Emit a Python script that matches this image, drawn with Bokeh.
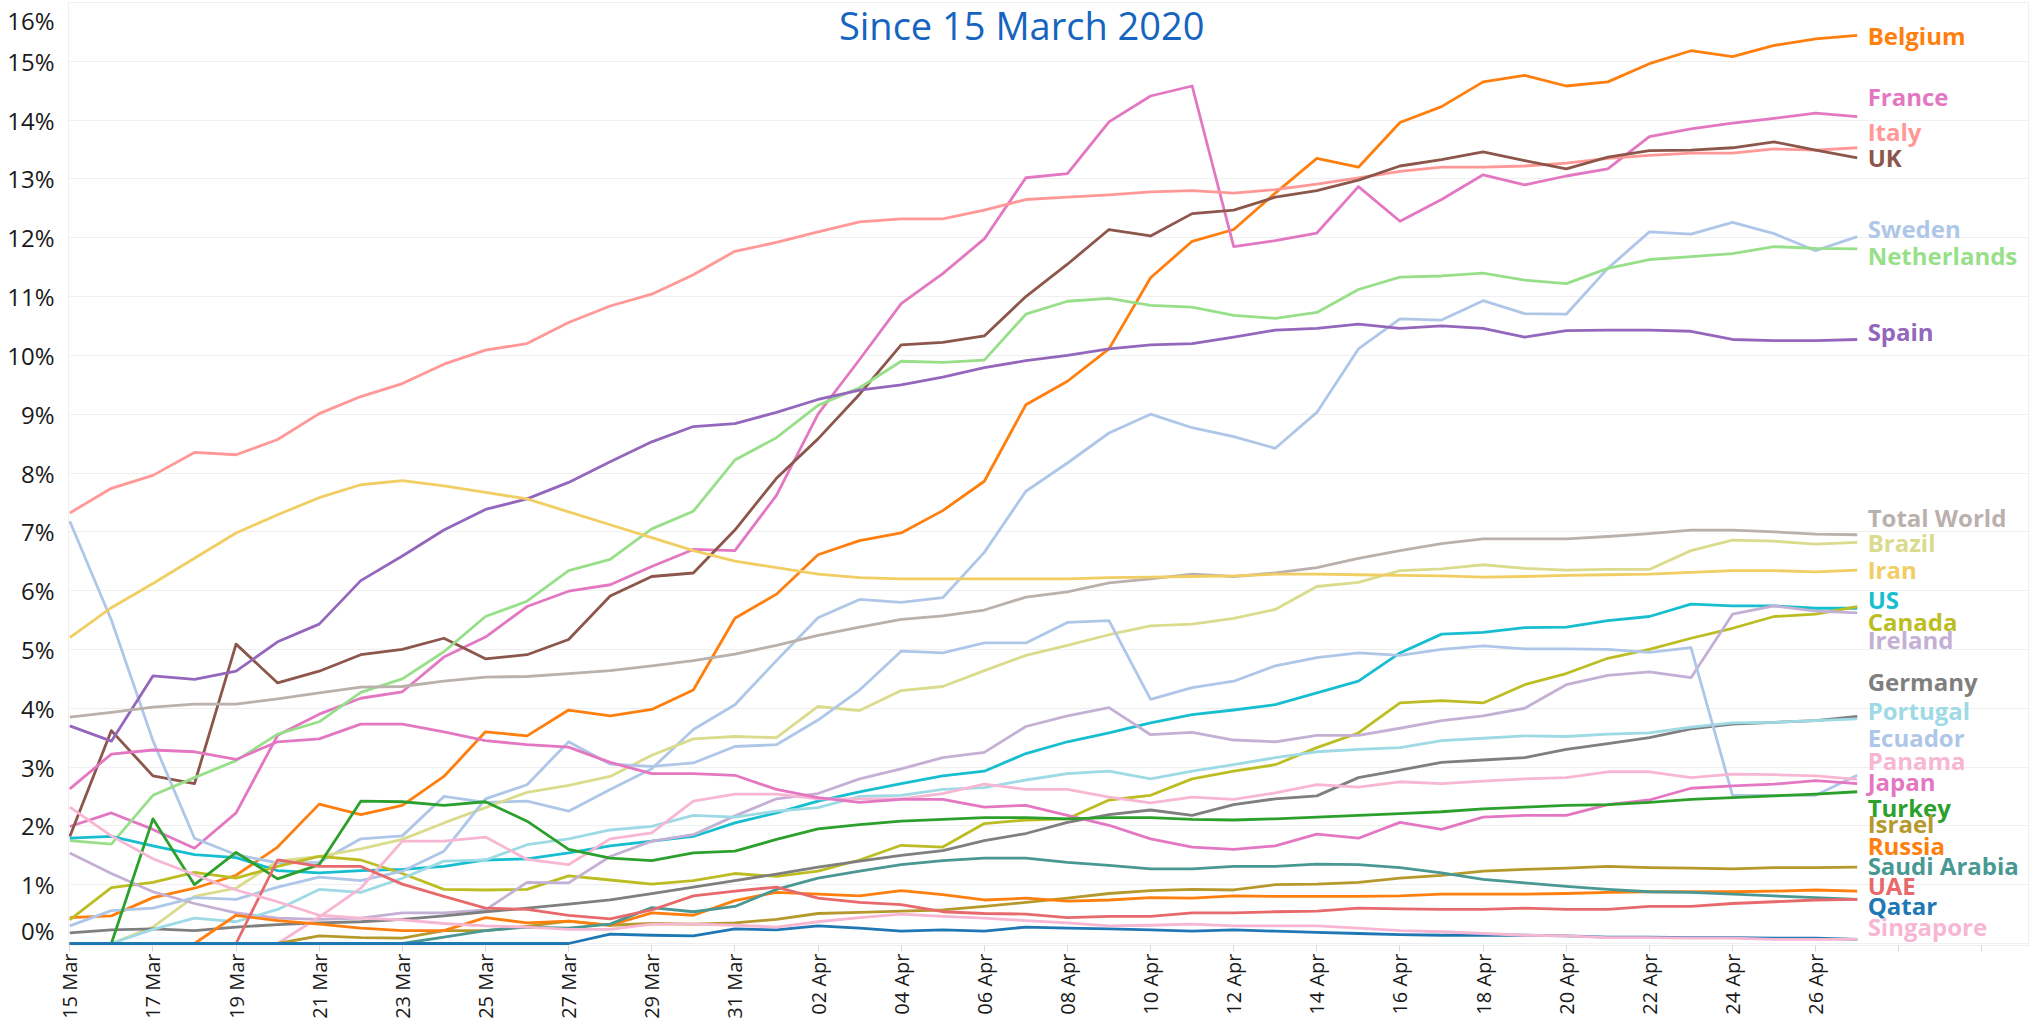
import pandas as pd
from bokeh.plotting import figure
from bokeh.models import Range1d, FixedTicker, Label, ColumnDataSource
from bokeh.core.properties import value
from bokeh.embed import file_html
from bokeh.resources import INLINE

# ---- data (share in %, daily, 15 Mar .. 27 Apr 2020) ----
dates = [d.strftime("%d %b") for d in pd.date_range("2020-03-15", "2020-04-27")]

belgium = [0.44,0.47,0.78,0.94,1.16,1.64,2.37,2.19,2.35,2.84, 3.60,3.53,3.97,3.87,3.98,4.31,5.53,5.94,6.61,6.85,
           6.98,7.36,7.86,9.16,9.56,10.11,11.32,11.94,12.14,12.76, 13.35,13.20,13.96,14.23,14.65,14.76,14.58,14.65,14.96,15.18,
           15.08,15.27,15.38,15.44]
france = [1.99,2.22,1.94,1.62,2.22,3.54,3.90,4.17,4.28,4.87, 5.21,5.73,5.99,6.10,6.41,6.70,6.68,7.62,9.00,9.93,
          10.88,11.39,11.98,13.02,13.09,13.97,14.41,14.58,11.85,11.95, 12.08,12.87,12.28,12.65,13.07,12.90,13.05,13.17,13.72,13.85,
          13.95,14.03,14.12,14.06]
italy = [7.32,7.74,7.96,8.35,8.31,8.57,9.01,9.30,9.52,9.85, 10.09,10.20,10.56,10.84,11.04,11.37,11.77,11.92,12.10,12.27,
         12.32,12.32,12.47,12.65,12.69,12.73,12.78,12.80,12.76,12.82, 12.91,13.02,13.13,13.20,13.20,13.22,13.27,13.35,13.40,13.44,
         13.44,13.51,13.49,13.53]
uk = [1.82,3.62,2.85,2.72,5.09,4.43,4.63,4.91,5.00,5.19, 4.84,4.91,5.17,5.91,6.24,6.30,7.03,7.91,8.58,9.34,
      10.18,10.22,10.33,11.00,11.55,12.14,12.03,12.41,12.47,12.69, 12.80,12.98,13.22,13.33,13.46,13.31,13.17,13.37,13.48,13.49,
      13.53,13.63,13.49,13.36]
sweden = [7.18,5.50,3.45,1.79,1.51,1.37,1.38,1.78,1.83,2.50, 2.40,2.42,2.25,2.62,2.97,3.64,4.06,4.81,5.54,5.85,
          5.80,5.88,6.65,7.69,8.17,8.68,9.00,8.77,8.62,8.42, 9.03,10.11,10.62,10.60,10.93,10.71,10.70,11.48,12.10,12.06,
          12.26,12.07,11.78,12.02]
netherlands = [1.75,1.69,2.52,2.82,3.11,3.56,3.77,4.27,4.50,4.96, 5.56,5.82,6.34,6.53,7.05,7.35,8.22,8.60,9.15,9.45,
               9.90,9.88,9.92,10.70,10.92,10.97,10.85,10.82,10.68,10.63, 10.73,11.12,11.33,11.35,11.40,11.28,11.22,11.48,11.63,11.68,
               11.73,11.85,11.82,11.81]
spain = [3.70,3.44,4.55,4.49,4.63,5.13,5.43,6.17,6.59,7.03, 7.38,7.56,7.84,8.19,8.53,8.79,8.84,9.03,9.25,9.41,
         9.50,9.63,9.79,9.91,10.00,10.11,10.18,10.20,10.31,10.43, 10.46,10.53,10.46,10.50,10.46,10.31,10.42,10.43,10.43,10.41,
         10.27,10.25,10.25,10.27]
total_world = [3.85,3.93,4.02,4.07,4.07,4.16,4.26,4.36,4.37,4.46, 4.53,4.54,4.59,4.64,4.72,4.81,4.92,5.07,5.24,5.38,
               5.51,5.57,5.67,5.89,5.98,6.13,6.20,6.28,6.24,6.30, 6.39,6.55,6.68,6.80,6.88,6.88,6.88,6.92,6.97,7.03,
               7.03,7.00,6.96,6.95]
brazil = [0,0,0.28,0.80,0.94,1.40,1.48,1.61,1.77,2.05, 2.31,2.57,2.69,2.84,3.20,3.48,3.52,3.50,4.03,3.96,
          4.30,4.37,4.64,4.90,5.07,5.25,5.40,5.43,5.53,5.68, 6.07,6.14,6.34,6.37,6.44,6.38,6.35,6.36,6.36,6.68,
          6.86,6.84,6.79,6.82]
iran = [5.20,5.71,6.12,6.55,6.98,7.29,7.58,7.80,7.87,7.78, 7.67,7.56,7.34,7.12,6.90,6.68,6.50,6.39,6.28,6.22,
        6.20,6.20,6.20,6.20,6.20,6.22,6.23,6.24,6.25,6.28, 6.28,6.27,6.26,6.25,6.23,6.24,6.26,6.27,6.28,6.31,
        6.34,6.34,6.32,6.35]
us = [1.79,1.82,1.66,1.51,1.46,1.24,1.20,1.24,1.26,1.31, 1.42,1.44,1.54,1.66,1.74,1.82,2.05,2.22,2.42,2.58,
      2.72,2.85,2.93,3.23,3.43,3.58,3.75,3.89,3.97,4.06, 4.26,4.46,4.94,5.26,5.29,5.37,5.38,5.49,5.56,5.77,
      5.74,5.74,5.70,5.70]
canada = [0.40,0.95,1.04,1.21,1.11,1.31,1.48,1.42,1.19,0.92, 0.91,0.92,1.15,1.08,1.01,1.07,1.19,1.14,1.23,1.42,
          1.67,1.64,2.04,2.10,2.12,2.44,2.52,2.80,2.93,3.04, 3.33,3.58,4.09,4.13,4.09,4.40,4.59,4.85,5.00,5.19,
          5.36,5.56,5.60,5.73]
ireland = [1.54,1.19,0.88,0.68,0.52,0.43,0.41,0.43,0.52,0.52, 0.57,1.04,1.03,1.48,1.74,1.85,2.17,2.46,2.55,2.80,
           2.97,3.16,3.25,3.69,3.87,4.01,3.55,3.59,3.46,3.43, 3.54,3.54,3.66,3.79,3.87,4.00,4.40,4.56,4.62,4.52,
           5.60,5.74,5.65,5.62]
germany = [0.18,0.23,0.25,0.22,0.28,0.32,0.35,0.37,0.41,0.47, 0.54,0.60,0.67,0.74,0.85,0.96,1.07,1.18,1.30,1.40,
           1.50,1.58,1.75,1.87,2.06,2.19,2.27,2.18,2.36,2.46, 2.51,2.82,2.95,3.08,3.12,3.16,3.30,3.40,3.50,3.65,
           3.73,3.76,3.79,3.86]
portugal = [0,0,0.24,0.43,0.37,0.58,0.92,0.87,1.11,1.40, 1.42,1.68,1.78,1.93,1.99,2.18,2.15,2.25,2.31,2.50,
            2.52,2.62,2.65,2.78,2.89,2.93,2.80,2.93,3.04,3.16, 3.26,3.30,3.33,3.45,3.49,3.53,3.52,3.56,3.58,3.68,
            3.75,3.76,3.79,3.82]
ecuador = [0.30,0.56,0.60,0.78,0.75,0.96,1.13,1.07,1.23,1.57, 2.46,2.70,3.43,3.05,3.01,3.07,3.35,3.38,3.80,4.31,
           4.97,4.94,5.11,5.11,5.46,5.49,4.15,4.35,4.46,4.72, 4.86,4.94,4.90,5.00,5.06,5.01,5.01,5.00,4.95,5.03,
           2.52,2.52,2.52,2.86]
panama = [0,0,0,0,0,0,0.45,0.94,1.74,1.74, 1.81,1.43,1.34,1.78,1.88,2.42,2.54,2.54,2.46,2.46,
          2.46,2.55,2.71,2.62,2.62,2.49,2.39,2.49,2.45,2.56, 2.70,2.66,2.75,2.72,2.76,2.80,2.82,2.92,2.92,2.82,
          2.88,2.87,2.85,2.79]
japan = [2.63,3.22,3.29,3.26,3.13,3.43,3.48,3.73,3.73,3.60, 3.45,3.38,3.34,3.08,2.89,2.89,2.86,2.62,2.48,2.40,
         2.45,2.45,2.32,2.35,2.18,2.01,1.78,1.64,1.60,1.66, 1.86,1.79,2.06,1.94,2.15,2.18,2.18,2.36,2.44,2.64,
         2.68,2.71,2.77,2.72]
turkey = [0,0,2.12,1.00,1.55,1.10,1.34,2.42,2.41,2.35, 2.41,2.08,1.60,1.45,1.41,1.54,1.57,1.77,1.95,2.02,
          2.08,2.11,2.14,2.14,2.12,2.14,2.14,2.11,2.10,2.12, 2.15,2.18,2.21,2.24,2.29,2.32,2.35,2.36,2.40,2.45,
          2.48,2.51,2.54,2.58]
israel = [0,0,0,0,0,0,0.13,0.10,0.09,0.22, 0.22,0.29,0.38,0.31,0.34,0.33,0.35,0.41,0.51,0.53,
          0.55,0.57,0.63,0.70,0.77,0.85,0.90,0.92,0.91,1.00, 1.01,1.04,1.11,1.16,1.23,1.26,1.28,1.31,1.29,1.28,
          1.27,1.29,1.29,1.30]
russia = [0,0,0,0,0.48,0.39,0.33,0.26,0.22,0.22, 0.44,0.35,0.38,0.31,0.52,0.48,0.73,0.87,0.84,0.81,
          0.90,0.83,0.74,0.77,0.72,0.74,0.78,0.77,0.81,0.80, 0.80,0.80,0.81,0.84,0.84,0.84,0.85,0.87,0.88,0.88,
          0.88,0.89,0.91,0.89]
saudi_arabia = [0,0,0,0,0,0,0,0,0,0.11, 0.22,0.28,0.26,0.33,0.61,0.54,0.63,0.92,1.11,1.23,
                1.34,1.41,1.45,1.45,1.38,1.33,1.27,1.27,1.31,1.31, 1.35,1.34,1.29,1.20,1.09,1.03,0.97,0.92,0.88,0.87,
                0.84,0.81,0.78,0.75]
uae = [0,0,0,0,0,1.42,1.31,1.31,1.01,0.80, 0.60,0.58,0.48,0.42,0.57,0.81,0.89,0.96,0.77,0.70,
       0.66,0.54,0.51,0.50,0.44,0.46,0.46,0.52,0.52,0.54, 0.55,0.60,0.59,0.58,0.58,0.60,0.58,0.58,0.63,0.63,
       0.68,0.71,0.74,0.75]
qatar = [0,0,0,0,0,0,0,0,0,0, 0,0,0,0.16,0.14,0.13,0.25,0.23,0.30,0.26,
         0.21,0.23,0.21,0.28,0.26,0.25,0.23,0.21,0.23,0.21, 0.19,0.17,0.15,0.14,0.14,0.14,0.13,0.11,0.11,0.10,
         0.10,0.09,0.09,0.07]
singapore = [2.32,1.83,1.44,1.17,0.91,0.71,0.48,0.43,0.40,0.34, 0.30,0.28,0.24,0.24,0.33,0.33,0.31,0.28,0.37,0.44,
             0.50,0.46,0.43,0.39,0.35,0.30,0.31,0.33,0.30,0.30, 0.30,0.26,0.22,0.20,0.17,0.14,0.13,0.10,0.10,0.09,
             0.09,0.07,0.07,0.07]

countries = ["Belgium", "France", "Italy", "UK", "Sweden", "Netherlands", "Spain", "Total World",
             "Brazil", "Iran", "US", "Canada", "Ireland", "Germany", "Portugal", "Ecuador", "Panama",
             "Japan", "Turkey", "Israel", "Russia", "Saudi Arabia", "UAE", "Qatar", "Singapore"]
series = [belgium, france, italy, uk, sweden, netherlands, spain, total_world,
          brazil, iran, us, canada, ireland, germany, portugal, ecuador, panama,
          japan, turkey, israel, russia, saudi_arabia, uae, qatar, singapore]
colors = ["#ff7f0e", "#e377c2", "#ff9896", "#8c564b", "#aec7e8", "#98df8a", "#9467bd", "#bab0ac",
          "#dbdb8d", "#f1ce63", "#17becf", "#bcbd22", "#c5b0d5", "#7f7f7f", "#9edae5", "#aec7e8", "#f7b6d2",
          "#e377c2", "#2ca02c", "#b6992d", "#ff7f0e", "#499894", "#e8696b", "#1f77b4", "#f7b6d2"]
# vertical position (in %) of each end label, spread apart so they do not collide
label_pos = [15.44, 14.40, 13.80, 13.37, 12.16, 11.70, 10.41, 7.25,
             6.82, 6.36, 5.85, 5.48, 5.17, 4.45, 3.97, 3.51, 3.12,
             2.76, 2.32, 2.04, 1.67, 1.33, 0.99, 0.65, 0.29]

days = list(range(len(dates)))
x_ticks = list(range(0, 47, 2))
# 0% and 16% labels sit nudged inside the frame, as in the original
y_tick_pos = [0.22] + list(range(1, 16)) + [15.69]
y_tick_txt = ["0%"] + [f"{t}%" for t in range(1, 16)] + ["16%"]

p = figure(width=2033, height=1027,
           x_range=Range1d(-0.031, 47.12), y_range=Range1d(-0.034, 16.0),
           output_backend="svg", toolbar_location=None,
           min_border_left=68, min_border_right=5, min_border_top=2, min_border_bottom=82)
p.background_fill_color = "white"
p.border_fill_color = "white"
p.outline_line_color = "#efefef"
p.outline_line_width = 1

p.xgrid.visible = False
p.ygrid.ticker = FixedTicker(ticks=list(range(0, 17)))
p.ygrid.grid_line_color = "#efefef"
p.ygrid.grid_line_width = 1

p.yaxis.ticker = FixedTicker(ticks=y_tick_pos)
p.yaxis.major_label_overrides = dict(zip(y_tick_pos, y_tick_txt))
p.yaxis.axis_line_color = None
p.yaxis.major_tick_line_color = None
p.yaxis.minor_tick_line_color = None
p.yaxis.major_label_standoff = 8
p.yaxis.major_label_text_font = "Open Sans"
p.yaxis.major_label_text_font_size = "24px"
p.yaxis.major_label_text_color = "#1a1a1a"

p.xaxis.ticker = FixedTicker(ticks=x_ticks)
p.xaxis.major_label_overrides = {t: (dates[t] if t < len(dates) else "") for t in x_ticks}
p.xaxis.major_label_orientation = 1.5707963267948966
p.xaxis.axis_line_color = None
p.xaxis.major_tick_line_color = "#d9d9d9"
p.xaxis.major_tick_out = 6
p.xaxis.major_tick_in = 0
p.xaxis.minor_tick_line_color = None
p.xaxis.major_label_standoff = 2
p.xaxis.major_label_text_font = "Open Sans"
p.xaxis.major_label_text_font_size = "20px"
p.xaxis.major_label_text_color = "#1a1a1a"

for name, vals, col in zip(countries, series, colors):
    p.line(days, vals, line_color=col, line_width=2.8, line_join="round")

lab = ColumnDataSource(dict(x=[43.25] * len(countries), y=label_pos, text=countries, color=colors))
p.text(x="x", y="y", text="text", text_color="color", source=lab,
       text_font=value("Open Sans"), text_font_style="bold", text_font_size="24px",
       text_baseline="middle", text_align="left")

p.add_layout(Label(x=22.9, y=15.62, text="Since 15 March 2020", text_align="center",
                   text_baseline="middle", text_font="Open Sans", text_font_size="38px",
                   text_color="#1565c0"))

open("out.html", "w").write(file_html(p, INLINE))
